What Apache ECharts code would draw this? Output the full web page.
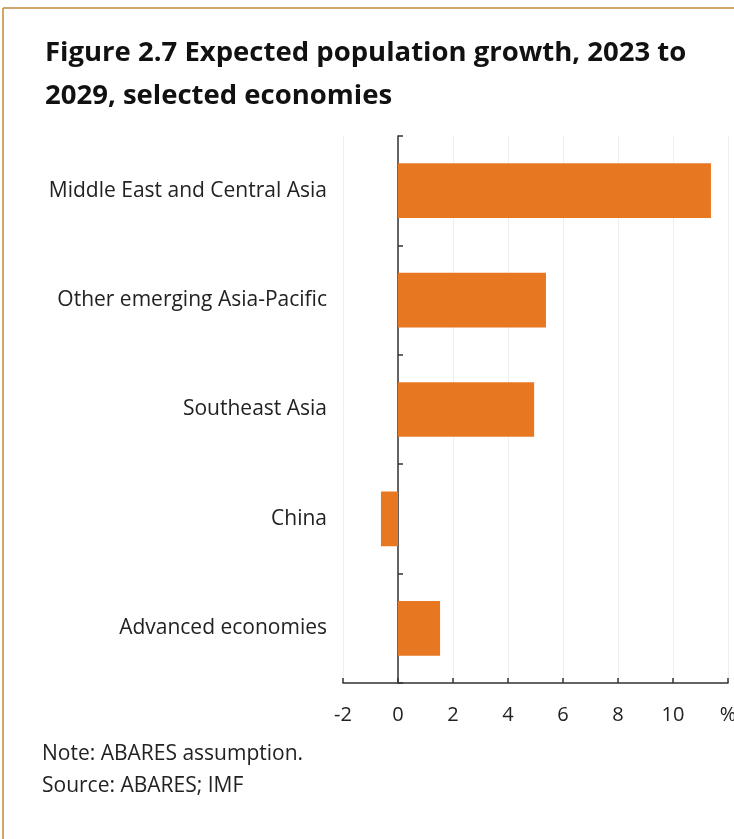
<!DOCTYPE html>
<html><head><meta charset="utf-8">
<script src="https://cdn.jsdelivr.net/npm/echarts@6/dist/echarts.min.js"></script>
<style>html,body{margin:0;padding:0;background:#fff}#c{width:734px;height:839px}</style>
</head><body><div id="c"></div>
<script>
const categories = ["Middle East and Central Asia","Other emerging Asia-Pacific","Southeast Asia","China","Advanced economies"];
const values = [11.38, 5.38, 4.95, -0.62, 1.53];
const tickLabels = {"-2":"-2","0":"0","2":"2","4":"4","6":"6","8":"8","10":"10","12":"%"};
const titleText = "Figure 2.7 Expected population growth, 2023 to\n2029, selected economies";
const noteText = "Note: ABARES assumption.";
const sourceText = "Source: ABARES; IMF";

const font = "'Open Sans', sans-serif";
const chart = echarts.init(document.getElementById('c'));
chart.setOption({
  animation:false,
  backgroundColor:'#fff',
  title:{text:titleText,left:40,top:27,textStyle:{fontFamily:font,fontSize:27.5,fontWeight:'bold',color:'#111',lineHeight:43}},
  grid:{left:343,right:6,top:136,bottom:156,containLabel:false,outerBoundsMode:'none'},
  xAxis:{type:'value',min:-2,max:12,interval:2,
    axisLine:{show:true,onZero:false,lineStyle:{color:'#333',width:1.5}},
    axisTick:{show:true,inside:true,length:5,lineStyle:{color:'#333',width:1.5}},
    axisLabel:{margin:22,fontFamily:font,fontSize:20,color:'#222',formatter:v=>tickLabels[String(v)]},
    splitLine:{show:true,lineStyle:{color:'#eeeeee',width:1}}},
  yAxis:{type:'category',data:categories,inverse:true,
    axisLine:{show:true,onZero:true,lineStyle:{color:'#333',width:1.5}},
    axisTick:{show:true,inside:true,length:5,lineStyle:{color:'#333',width:1.5}},
    axisLabel:{fontFamily:font,fontSize:21,color:'#222',margin:16},
    splitLine:{show:false}},
  series:[{type:'bar',data:values,barWidth:'50%',itemStyle:{color:'#e87722'}}],
  graphic:[
    {type:'line',shape:{x1:3,y1:8,x2:734,y2:8},style:{stroke:'#c08a3a',lineWidth:1.5}},
    {type:'line',shape:{x1:3,y1:8,x2:3,y2:839},style:{stroke:'#c08a3a',lineWidth:1.5}},
    {type:'text',left:42,top:744,style:{text:noteText,font:"21px "+font,fill:'#222'}},
    {type:'text',left:42,top:776,style:{text:sourceText,font:"21px "+font,fill:'#222'}}
  ]
});
</script></body></html>
